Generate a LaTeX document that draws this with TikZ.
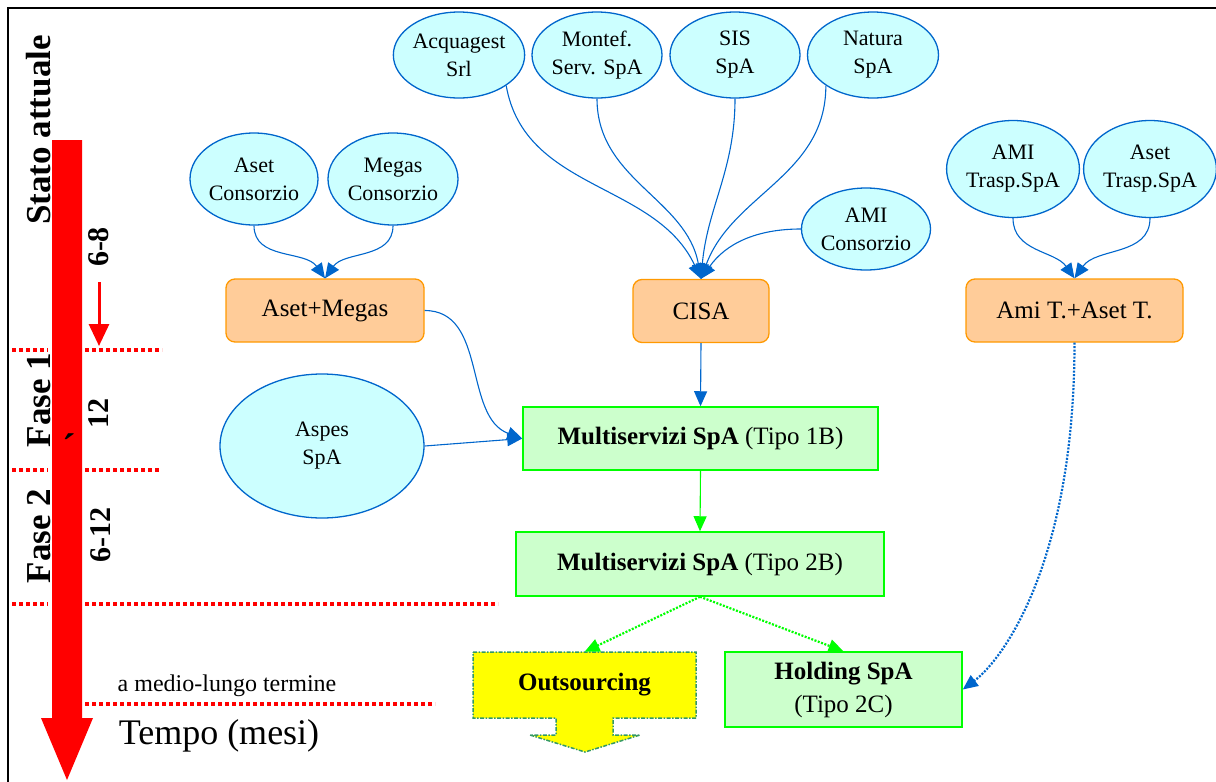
\documentclass[tikz,border=0pt]{standalone}
\usepackage{fontspec}
\setmainfont{Liberation Serif}
\usepackage{xcolor}
\usetikzlibrary{arrows.meta,shapes.geometric}

\definecolor{entfill}{HTML}{CCFFFF}
\definecolor{entline}{HTML}{0066CC}
\definecolor{mrgfill}{HTML}{FFCC99}
\definecolor{mrgline}{HTML}{FF9900}
\definecolor{spafill}{HTML}{CCFFCC}
\definecolor{spaline}{HTML}{00FF00}
\definecolor{outfill}{HTML}{FFFF00}
\definecolor{outedge}{HTML}{339966}

\begin{document}
\begin{tikzpicture}[x=1pt,y=1pt,
  ent/.style={ellipse,draw=entline,fill=entfill,line width=1.3pt,inner sep=0pt,align=center,font=\fontsize{22}{28}\selectfont},
  mrg/.style={rectangle,rounded corners=9pt,draw=mrgline,fill=mrgfill,line width=1.3pt,minimum height=63pt,font=\fontsize{25}{30}\selectfont},
  spa/.style={rectangle,draw=spaline,fill=spafill,line width=1.5pt,align=center,font=\fontsize{25}{33}\selectfont},
  link/.style={entline,line width=1.1pt,-{Triangle[length=15pt,width=13pt]}},
  dlink/.style={line width=2.2pt,dash pattern=on 2pt off 1.5pt,-{Triangle[length=15pt,width=13pt]}},
  phase/.style={rotate=90,font=\fontsize{35}{35}\selectfont\bfseries},
  months/.style={rotate=90,font=\fontsize{30}{30}\selectfont\bfseries},
  cutline/.style={red,line width=4pt,dash pattern=on 4pt off 3pt}]

  \useasboundingbox (0,0) rectangle (1216,-782);
  % frame
  \draw[line width=2.5pt] (8,-782) -- (8,-8) -- (1216,-8);

  %% time axis
  \fill[red] (52,-140) -- (82,-140) -- (82,-718) -- (93,-718) -- (67,-780)
    -- (41,-718) -- (52,-718) -- cycle;
  \draw[cutline] (12,-350) -- (48,-350) (85,-350) -- (162,-350);
  \draw[cutline] (12,-470) -- (48,-470) (85,-470) -- (160,-470);
  \draw[cutline] (12,-604) -- (48,-604) (85,-604) -- (498,-604);
  \draw[cutline] (85,-704) -- (435,-704);
  \coordinate (d0) at (99,-282);
  \coordinate (d1) at (99,-346);
  \draw[red,line width=3pt,-{Triangle[length=22pt,width=20pt]}] (d0) -- (d1);
  % labels
  \node[phase] (stato) at (39,-130) {Stato attuale};
  \node[phase] (fase1) at (39,-400) {Fase 1};
  \node[phase] (fase2) at (39,-536) {Fase 2};
  \node[months] (m68) at (99,-247) {6-8};
  \node[months] (m12) at (99,-413) {12};
  \node[months] (m612) at (101,-535) {6-12};
  \node[font=\fontsize{40}{40}\selectfont\bfseries] (tick) at (69,-448) {´};
  \node[font=\fontsize{24}{24}\selectfont] (lungo) at (227,-686) {a medio-lungo termine};
  \node[font=\fontsize{36}{36}\selectfont] (tempo) at (219,-736) {Tempo (mesi)};

  %% companies
  \node[ent,minimum width=131pt,minimum height=86pt] (acq) at (459,-55) {Acquagest\\Srl};
  \node[ent,minimum width=130pt,minimum height=86pt] (mon) at (597,-55) {Montef.\\Serv. SpA};
  \node[ent,minimum width=130pt,minimum height=86pt] (sis) at (735,-55) {SIS\\SpA};
  \node[ent,minimum width=131pt,minimum height=86pt] (nat) at (873,-55) {Natura\\SpA};
  \node[ent,minimum width=129pt,minimum height=82pt] (amic) at (866,-229) {AMI\\Consorzio};
  \node[ent,minimum width=128pt,minimum height=92pt] (asc) at (254,-179) {Aset\\Consorzio};
  \node[ent,minimum width=130pt,minimum height=92pt] (meg) at (393,-179) {Megas\\Consorzio};
  \node[ent,minimum width=130pt,minimum height=97pt] (amt) at (1013,-169) {AMI\\Trasp.SpA};
  \node[ent,minimum width=129pt,minimum height=97pt] (ast) at (1150,-169) {Aset\\Trasp.SpA};
  \node[ent,minimum width=204pt,minimum height=144pt] (asp) at (322,-446) {Aspes\\SpA};

  % mergers
  \node[mrg,minimum width=198pt] (am) at (325,-310.5) {Aset+Megas};
  \node[mrg,minimum width=136pt] (cisa) at (701,-311) {CISA};
  \node[mrg,minimum width=217pt] (at) at (1074.5,-310.5) {Ami T.+Aset T.};

  % multiservizi
  \node[spa,minimum width=355pt,minimum height=63pt] (ms1) at (700.5,-438.5) {\textbf{Multiservizi SpA} (Tipo 1B)};
  \node[spa,minimum width=368pt,minimum height=64pt] (ms2) at (700,-564) {\textbf{Multiservizi SpA} (Tipo 2B)};
  \node[spa,minimum width=237pt,minimum height=75pt] (hold) at (843.5,-689.5) {\textbf{Holding SpA}\\(Tipo 2C)};

  % outsourcing
  \filldraw[fill=outfill,draw=outedge,line width=1.5pt,dash pattern=on 4pt off 1.5pt on 1.5pt off 1.5pt]
    (473,-652) -- (696,-652) -- (696,-718) -- (613,-718) -- (613,-735) -- (640,-735)
    -- (585,-752) -- (530,-735) -- (556,-735) -- (556,-718) -- (473,-718) -- cycle;
  \node[minimum width=223pt,minimum height=66pt,font=\fontsize{25}{30}\selectfont\bfseries] (outs) at (584.5,-685) {Outsourcing};

  %% connectors
  \draw[link] (asc.south) to[out=-90,in=125] (am.north);
  \draw[link] (meg.south) to[out=-90,in=55] (am.north);
  \draw[link] (amt.south) to[out=-90,in=125] (at.north);
  \draw[link] (ast.south) to[out=-90,in=55] (at.north);
  \draw[link] (acq.-33) to[out=-80,in=115] (cisa.north);
  \draw[link] (mon.south) to[out=-90,in=100] (cisa.north);
  \draw[link] (sis.south) to[out=-90,in=85] (cisa.north);
  \draw[link] (nat.-147) to[out=-90,in=70] (cisa.north);
  \draw[link] (amic.west) to[out=180,in=55] (cisa.north);
  \draw[link] (cisa.south) -- (ms1.north);
  \draw[link] (am.east) to[out=0,in=160] (ms1.west);
  \draw[link] (asp.east) -- (ms1.west);
  \draw[link,spaline] (ms1.south) -- (ms2.north);
  \draw[dlink,spaline] (ms2.south) -- (outs.north);
  \draw[dlink,spaline] (ms2.south) -- (hold.north);
  \draw[dlink,entline] (at.south) .. controls +(0,-220) and +(40,30) .. (hold.east);

\end{tikzpicture}
\end{document}
